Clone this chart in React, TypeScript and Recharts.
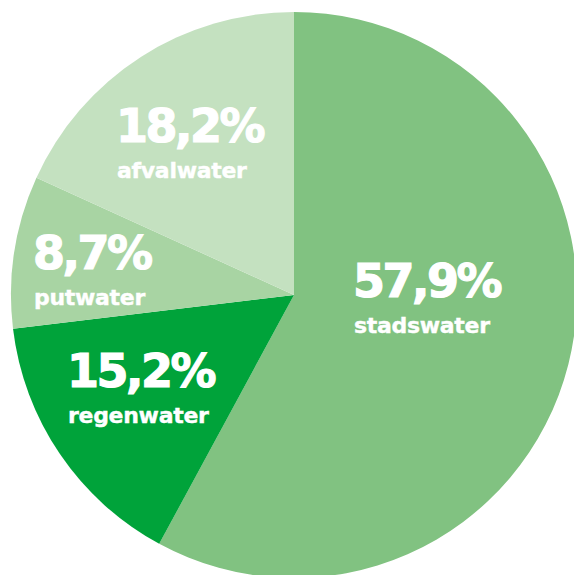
import { PieChart, Pie, Cell } from "recharts";

const categories = ["stadswater", "regenwater", "putwater", "afvalwater"];
const shares = [57.9, 15.2, 8.7, 18.2];
const valueLabels = ["57,9%", "15,2%", "8,7%", "18,2%"];

const colors = ["#81c281", "#00a33a", "#a8d4a3", "#c4e1c0"];

// label anchor (left edge, baseline of percentage) relative to pie centre
const labelOffsets = [
    { dx: 59, dy: 2 },
    { dx: -227, dy: 92 },
    { dx: -261, dy: -26 },
    { dx: -178, dy: -153 },
];

const data = categories.map((name, i) => ({
    name,
    value: shares[i],
    label: valueLabels[i],
}));

const font = "'DejaVu Sans', Verdana, sans-serif";

function SliceLabel(props: any) {
    const { cx, cy, index } = props;
    const off = labelOffsets[index];
    const x = cx + off.dx;
    const y = cy + off.dy;
    return (
        <g>
            <text
                x={x}
                y={y}
                fill="#ffffff"
                stroke="#ffffff"
                strokeWidth={1.2}
                textAnchor="start"
                fontFamily={font}
                fontWeight={700}
                fontSize={46}
                letterSpacing={-2.5}
            >
                {data[index].label}
            </text>
            <text
                x={x + 1}
                y={y + 36}
                fill="#ffffff"
                stroke="#ffffff"
                strokeWidth={0.4}
                textAnchor="start"
                fontFamily={font}
                fontWeight={700}
                fontSize={22}
                letterSpacing={-0.3}
            >
                {data[index].name}
            </text>
        </g>
    );
}

export default function App() {
    return (
        <div style={{ position: "fixed", left: 0, top: 0, width: 574, height: 575, background: "#ffffff" }}>
            <PieChart width={574} height={575} margin={{ top: 0, right: 0, bottom: 0, left: 0 }}>
                <Pie
                    data={data}
                    dataKey="value"
                    nameKey="name"
                    cx={294}
                    cy={295}
                    outerRadius={283}
                    innerRadius={0}
                    startAngle={90}
                    endAngle={-270}
                    stroke="none"
                    label={SliceLabel}
                    labelLine={false}
                    isAnimationActive={false}
                >
                    {data.map((entry, i) => (
                        <Cell key={entry.name} fill={colors[i]} />
                    ))}
                </Pie>
            </PieChart>
        </div>
    );
}
